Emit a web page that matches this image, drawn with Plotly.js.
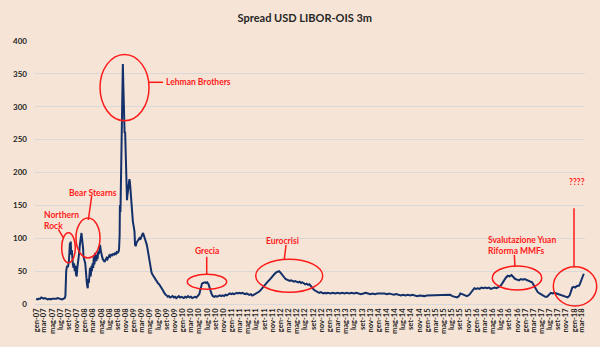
<!DOCTYPE html>
<html>
<head>
<meta charset="utf-8">
<script src="https://cdn.plot.ly/plotly-3.0.1.min.js"></script>
<style>
html,body{margin:0;padding:0;background:#F6E5D6;}
#chart{width:600px;height:347px;}
</style>
</head>
<body>
<div id="chart"></div>
<script>
// ---- tick labels (Italian month abbreviations, every 2 months) ----
const tickLabels = [
 'gen-07','mar-07','mag-07','lug-07','set-07','nov-07',
 'gen-08','mar-08','mag-08','lug-08','set-08','nov-08',
 'gen-09','mar-09','mag-09','lug-09','set-09','nov-09',
 'gen-10','mar-10','mag-10','lug-10','set-10','nov-10',
 'gen-11','mar-11','mag-11','lug-11','set-11','nov-11',
 'gen-12','mar-12','mag-12','lug-12','set-12','nov-12',
 'gen-13','mar-13','mag-13','lug-13','set-13','nov-13',
 'gen-14','mar-14','mag-14','lug-14','set-14','nov-14',
 'gen-15','mar-15','mag-15','lug-15','set-15','nov-15',
 'gen-16','mar-16','mag-16','lug-16','set-16','nov-16',
 'gen-17','mar-17','mag-17','lug-17','set-17','nov-17',
 'gen-18','mar-18'
];
const yTicks = [0,50,100,150,200,250,300,350,400];

// ---- series: USD LIBOR-OIS 3m spread (bp) ----
const dates = [
 '2007-01-02','2007-01-12','2007-01-22','2007-02-01','2007-02-09','2007-02-16','2007-02-26','2007-03-08','2007-03-19','2007-03-29',
 '2007-04-10','2007-04-20','2007-05-01','2007-05-11','2007-05-22','2007-06-01','2007-06-12','2007-06-22','2007-07-03','2007-07-13',
 '2007-07-24','2007-08-03','2007-08-08','2007-08-10','2007-08-14','2007-08-20','2007-08-27','2007-09-03','2007-09-07','2007-09-11',
 '2007-09-14','2007-09-17','2007-09-20','2007-09-25','2007-09-28','2007-10-03','2007-10-08','2007-10-12','2007-10-17','2007-10-22',
 '2007-10-26','2007-10-31','2007-11-05','2007-11-09','2007-11-14','2007-11-19','2007-11-23','2007-11-28','2007-12-03','2007-12-06',
 '2007-12-10','2007-12-13','2007-12-18','2007-12-21','2007-12-27',
 '2008-01-03','2008-01-08','2008-01-11','2008-01-16','2008-01-22','2008-01-25','2008-01-30','2008-02-04','2008-02-08','2008-02-13',
 '2008-02-19','2008-02-22','2008-02-27','2008-03-03','2008-03-07','2008-03-12','2008-03-17','2008-03-20','2008-03-26','2008-03-31',
 '2008-04-04','2008-04-09','2008-04-14','2008-04-18','2008-04-23','2008-04-28','2008-05-02','2008-05-08','2008-05-14','2008-05-20',
 '2008-05-27','2008-06-03','2008-06-10','2008-06-17','2008-06-24','2008-07-01','2008-07-08','2008-07-15','2008-07-22','2008-07-29',
 '2008-08-05','2008-08-12','2008-08-19','2008-08-26','2008-09-02','2008-09-09','2008-09-12','2008-09-16','2008-09-18','2008-09-22',
 '2008-09-25','2008-09-29','2008-10-01','2008-10-03','2008-10-07','2008-10-09','2008-10-10','2008-10-14','2008-10-16','2008-10-20',
 '2008-10-23','2008-10-27','2008-10-30','2008-11-03','2008-11-06','2008-11-10','2008-11-13','2008-11-17','2008-11-20','2008-11-24',
 '2008-11-28','2008-12-02','2008-12-05','2008-12-10','2008-12-15','2008-12-19','2008-12-24','2008-12-30',
 '2009-01-05','2009-01-09','2009-01-14','2009-01-20','2009-01-27','2009-02-03','2009-02-10','2009-02-17','2009-02-24','2009-03-03',
 '2009-03-10','2009-03-17','2009-03-24','2009-03-31','2009-04-07','2009-04-14','2009-04-21','2009-04-28','2009-05-05','2009-05-12',
 '2009-05-19','2009-05-27','2009-06-03','2009-06-10','2009-06-17','2009-06-24','2009-07-01','2009-07-08','2009-07-15','2009-07-22',
 '2009-07-29','2009-08-05','2009-08-12','2009-08-19','2009-08-26','2009-09-02','2009-09-10','2009-09-18','2009-09-28','2009-10-07',
 '2009-10-16','2009-10-26','2009-11-04','2009-11-13','2009-11-23','2009-12-02','2009-12-11','2009-12-21','2009-12-30',
 '2010-01-08','2010-01-19','2010-01-29','2010-02-09','2010-02-19','2010-03-02','2010-03-12','2010-03-23','2010-04-02','2010-04-13',
 '2010-04-23','2010-05-04','2010-05-10','2010-05-17','2010-05-24','2010-06-01','2010-06-09','2010-06-17','2010-06-25','2010-07-02',
 '2010-07-12','2010-07-20','2010-07-27','2010-08-04','2010-08-13','2010-08-24','2010-09-03','2010-09-14','2010-09-24','2010-10-05',
 '2010-10-15','2010-10-26','2010-11-05','2010-11-16','2010-11-26','2010-12-07','2010-12-17','2010-12-28',
 '2011-01-07','2011-01-18','2011-01-28','2011-02-08','2011-02-18','2011-03-01','2011-03-11','2011-03-22','2011-04-01','2011-04-12',
 '2011-04-22','2011-05-03','2011-05-13','2011-05-24','2011-06-03','2011-06-14','2011-06-24','2011-07-05','2011-07-15','2011-07-26',
 '2011-08-05','2011-08-16','2011-08-26','2011-09-06','2011-09-16','2011-09-27','2011-10-07','2011-10-18','2011-10-28','2011-11-08',
 '2011-11-18','2011-11-29','2011-12-09','2011-12-20','2011-12-30',
 '2012-01-06','2012-01-17','2012-01-27','2012-02-07','2012-02-17','2012-02-28','2012-03-09','2012-03-20','2012-03-30','2012-04-10',
 '2012-04-20','2012-05-01','2012-05-11','2012-05-22','2012-06-01','2012-06-12','2012-06-22','2012-07-03','2012-07-13','2012-07-24',
 '2012-08-03','2012-08-14','2012-08-24','2012-09-04','2012-09-14','2012-09-25','2012-10-05','2012-10-16','2012-10-26','2012-11-06',
 '2012-11-16','2012-11-27','2012-12-07','2012-12-18','2012-12-28',
 '2013-01-08','2013-01-25','2013-02-12','2013-03-01','2013-03-19','2013-04-05','2013-04-23','2013-05-10','2013-05-28','2013-06-14',
 '2013-07-02','2013-07-19','2013-08-06','2013-08-23','2013-09-10','2013-09-27','2013-10-15','2013-11-01','2013-11-19','2013-12-06',
 '2013-12-24',
 '2014-01-10','2014-01-28','2014-02-14','2014-03-04','2014-03-21','2014-04-08','2014-04-25','2014-05-13','2014-05-30','2014-06-17',
 '2014-07-04','2014-07-22','2014-08-08','2014-08-26','2014-09-12','2014-09-30','2014-10-17','2014-11-04','2014-11-21','2014-12-09',
 '2014-12-26',
 '2015-01-13','2015-01-30','2015-02-17','2015-03-06','2015-03-24','2015-04-10','2015-04-28','2015-05-15','2015-06-02','2015-06-19',
 '2015-07-07','2015-07-24','2015-08-11','2015-08-25','2015-09-04','2015-09-18','2015-10-06','2015-10-23','2015-11-10','2015-11-27',
 '2015-12-08','2015-12-18','2015-12-30',
 '2016-01-12','2016-01-26','2016-02-09','2016-02-23','2016-03-08','2016-03-22','2016-04-05','2016-04-19','2016-05-03','2016-05-17',
 '2016-05-31','2016-06-14','2016-06-28','2016-07-12','2016-07-26','2016-08-09','2016-08-23','2016-09-06','2016-09-20','2016-10-04',
 '2016-10-18','2016-11-01','2016-11-15','2016-11-29','2016-12-13','2016-12-27',
 '2017-01-10','2017-01-24','2017-02-07','2017-02-21','2017-03-07','2017-03-21','2017-04-04','2017-04-18','2017-05-02','2017-05-16',
 '2017-05-30','2017-06-13','2017-06-27','2017-07-11','2017-07-25','2017-08-08','2017-08-22','2017-09-05','2017-09-19','2017-10-03',
 '2017-10-17','2017-10-31','2017-11-14','2017-11-28','2017-12-08','2017-12-18','2017-12-29',
 '2018-01-09','2018-01-19','2018-01-30','2018-02-07','2018-02-16','2018-02-26','2018-03-06','2018-03-14'
];
const spread = [
 8,7,8,8,10,9,8,9,8,7,
 8,7,8,8,7,8,9,8,8,7,
 8,9,12,35,50,58,56,65,80,93,
 88,95,75,82,62,60,55,62,50,58,
 45,42,55,60,68,78,88,98,103,108,
 100,95,85,72,68,
 62,50,40,30,24,38,32,45,55,42,
 58,50,62,55,72,60,78,70,65,75,
 68,80,76,86,90,82,76,72,68,66,
 64,67,70,68,72,74,72,75,74,76,
 75,77,76,79,78,80,85,105,150,140,
 175,240,265,290,325,345,365,330,290,270,
 260,262,240,200,170,158,165,175,172,185,
 190,185,175,160,140,130,125,118,
 110,90,88,93,96,97,100,98,103,105,
 108,104,100,97,90,82,72,62,55,48,
 45,42,40,38,36,33,31,30,28,26,
 24,21,18,15,14,13,11,12,10,11,
 12,10,11,9,10,12,10,11,10,
 9,11,10,12,10,11,9,10,11,10,
 12,15,20,26,31,32,33,33,32,33,
 30,26,20,15,12,11,12,11,12,13,
 12,13,12,14,13,15,16,15,
 16,15,16,17,16,17,16,17,16,15,
 16,15,14,15,13,14,15,16,17,19,
 21,24,26,29,31,34,36,39,41,44,
 46,48,49,50,48,
 46,43,40,38,37,36,35,36,35,34,
 35,34,33,34,32,33,31,30,31,29,
 30,28,25,22,20,19,18,17,18,17,
 16,17,16,17,16,
 16,17,16,17,16,17,16,17,16,17,
 16,17,16,15,16,17,16,15,16,15,
 16,
 16,17,16,15,16,15,14,15,14,13,
 14,13,14,13,14,13,12,13,12,12,
 13,
 13,14,13,14,13,14,13,14,13,14,
 12,11,10,12,16,15,13,12,14,18,
 22,24,23,
 24,23,25,24,25,24,25,23,24,25,
 24,26,27,31,36,40,43,42,44,41,
 38,37,36,38,37,38,
 37,36,35,33,28,22,18,16,14,12,
 11,11,14,17,16,17,16,15,14,13,
 12,11,10,13,18,25,26,
 25,27,28,28,32,37,42,46
];

// ---- annotations ----
const eventLabels = ['Northern<br>Rock','Bear Stearns','Lehman Brothers','Grecia','Eurocrisi','Svalutazione Yuan<br>Riforma MMFs','????'];

const monthNum = {gen:'01',feb:'02',mar:'03',apr:'04',mag:'05',giu:'06',lug:'07',ago:'08',set:'09',ott:'10',nov:'11',dic:'12'};
const tickDates = tickLabels.map(l => '20' + l.slice(4) + '-' + monthNum[l.slice(0,3)] + '-01');

const RED = '#FF1A1A';
const ell = (x0,x1,y0,y1) => ({type:'circle', xref:'paper', yref:'paper', x0, x1, y0, y1, line:{color:RED, width:1.5}, layer:'above'});
const seg = (x0,y0,x1,y1) => ({type:'line', xref:'paper', yref:'paper', x0, y0, x1, y1, line:{color:RED, width:1.5}, layer:'above'});
const lab = (i,x,y,xa,al) => ({text:eventLabels[i], xref:'paper', yref:'paper', x, y, xanchor:xa||'center', yanchor:'middle', align:al||'center', showarrow:false, font:{family:'Lato, Liberation Sans, sans-serif', size:8.5, color:RED, weight:'bold'}});

const trace = {
  x: dates, y: spread, type:'scatter', mode:'lines',
  line:{color:'#13306A', width:2}, hoverinfo:'skip'
};

const layout = {
  width:600, height:347,
  paper_bgcolor:'#F6E5D6', plot_bgcolor:'#F6E5D6',
  margin:{l:35, r:15, t:41, b:43},
  showlegend:false,
  title:{text:'<b>Spread USD LIBOR-OIS 3m</b>', xref:'container', yref:'container', x:0.508, y:0.947, xanchor:'center', yanchor:'middle',
         font:{family:'Lato, Liberation Sans, sans-serif', size:11, color:'#262626'}},
  xaxis:{type:'date', range:['2006-12-24','2018-03-23'], tickmode:'array', tickvals:tickDates, ticktext:tickLabels,
         tickangle:-90, tickfont:{family:'Lato, Liberation Sans, sans-serif', size:7.5, color:'#262626', weight:'bold'},
         showgrid:false, zeroline:false, showline:false, ticks:'', ticklabelstandoff:2},
  yaxis:{range:[0,400], tickmode:'array', tickvals:yTicks, ticktext:yTicks.map(String),
         tickfont:{family:'Lato, Liberation Sans, sans-serif', size:8, color:'#262626', weight:'bold'},
         gridcolor:'#D9D9D9', gridwidth:1, zeroline:true, zerolinecolor:'#D9D9D9', zerolinewidth:1,
         showline:false, ticks:'', ticklabelstandoff:7},
  shapes:[
    ell(0.0485,0.0733,0.157,0.271),
    ell(0.0745,0.1182,0.175,0.327),
    ell(0.1182,0.2073,0.697,0.949),
    ell(0.2769,0.3485,0.0559,0.1129),
    ell(0.4013,0.5231,0.0445,0.170),
    ell(0.8315,0.9213,0.0532,0.1445),
    ell(0.9424,1.0213,-0.0076,0.1418),
    seg(0.0424,0.284,0.0515,0.252),
    seg(0.1031,0.4106,0.0969,0.3194),
    seg(0.2073,0.843,0.2327,0.843),
    seg(0.3122,0.1795,0.3122,0.114),
    seg(0.4564,0.2243,0.4533,0.1700),
    seg(0.8715,0.1863,0.8727,0.1418),
    seg(0.98,0.3639,0.98,0.1418)
  ],
  annotations:[
    lab(0,0.0122,0.3156,'left','left'),
    lab(1,0.106,0.4232),
    lab(2,0.2345,0.843,'left','left'),
    lab(3,0.3122,0.2015),
    lab(4,0.4496,0.2407),
    lab(5,0.82,0.2217,'left','left'),
    lab(6,0.985,0.464)
  ]
};

Plotly.newPlot('chart', [trace], layout, {staticPlot:true, displayModeBar:false});
</script>
</body>
</html>
